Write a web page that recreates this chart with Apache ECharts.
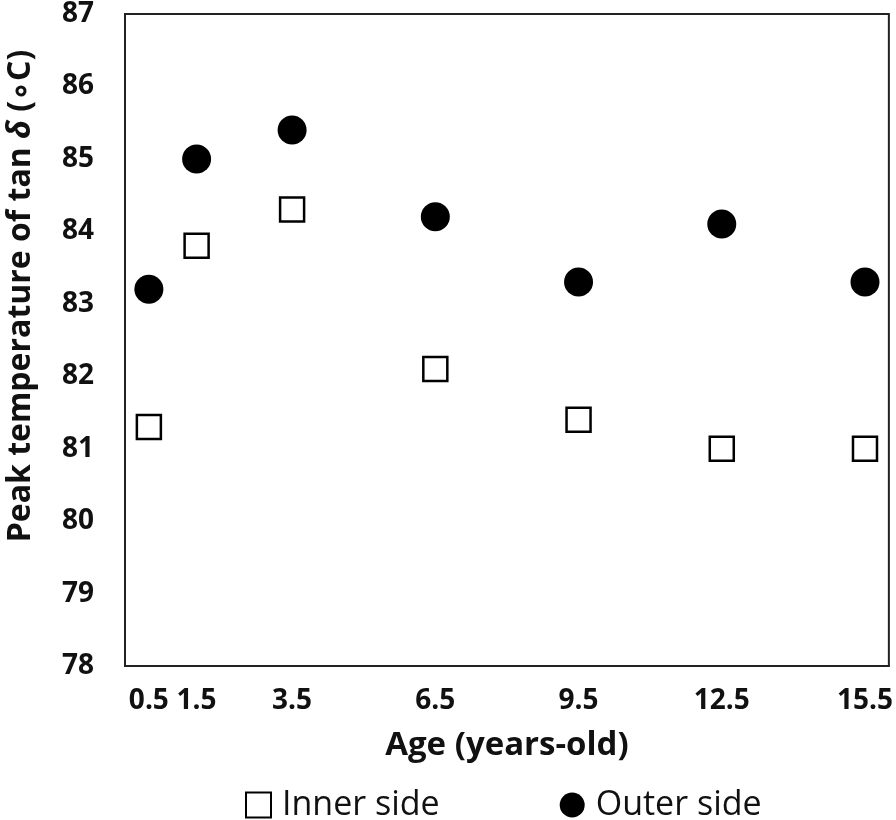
<!DOCTYPE html>
<html><head><meta charset="utf-8">
<script src="https://cdn.jsdelivr.net/npm/echarts@6/dist/echarts.min.js"></script>
<style>html,body{margin:0;padding:0;background:#fff}#c{width:896px;height:820px}</style>
</head><body><div id="c"></div>
<script>
const ages = [0.5, 1.5, 3.5, 6.5, 9.5, 12.5, 15.5];
const innerSide = [81.3, 83.8, 84.3, 82.1, 81.4, 81.0, 81.0];
const outerSide = [83.2, 85.0, 85.4, 84.2, 83.3, 84.1, 83.3];
const xTickLabels = [0.5, 1.5, 3.5, 6.5, 9.5, 12.5, 15.5];
const yTicks = [78, 79, 80, 81, 82, 83, 84, 85, 86, 87];

const FONT = '"Open Sans", sans-serif';
const chart = echarts.init(document.getElementById('c'), null, {renderer: 'canvas'});
chart.setOption({
  backgroundColor: '#fff',
  animation: false,
  grid: {left: 125, right: 6, top: 13, bottom: 154, show: true, borderColor: '#222', borderWidth: 2},
  xAxis: {
    type: 'value', min: 0, max: 16,
    name: 'Age (years-old)', nameLocation: 'middle', nameGap: 63,
    nameTextStyle: {fontFamily: FONT, fontWeight: 'bold', fontSize: 33, color: '#111'},
    axisLine: {show: true, lineStyle: {color: '#222', width: 2}},
    axisTick: {show: false},
    splitLine: {show: false},
    axisLabel: {customValues: xTickLabels, fontFamily: FONT, fontWeight: 'bold', fontSize: 28, color: '#111', margin: 21}
  },
  yAxis: {
    type: 'value', min: 78, max: 87, interval: 1,
    axisLine: {show: true, lineStyle: {color: '#222', width: 2}},
    axisTick: {show: false},
    splitLine: {show: false},
    axisLabel: {customValues: yTicks, fontFamily: FONT, fontWeight: 'bold', fontSize: 28, color: '#111', margin: 31}
  },
  graphic: [{
    type: 'text', x: 21, y: 296, rotation: Math.PI / 2,
    style: {
      text: 'Peak temperature of tan {i|δ} (∘C)',
      fontFamily: FONT, fontWeight: 'bold', fontSize: 32, fill: '#111',
      align: 'center', verticalAlign: 'middle',
      rich: {i: {fontStyle: 'italic', fontFamily: FONT, fontWeight: 'bold', fontSize: 32, fill: '#111'}}
    }
  }],
  legend: {
    top: 788, left: 245, itemGap: 120, itemWidth: 25, itemHeight: 25, padding: 0,
    textStyle: {fontFamily: FONT, fontSize: 34, color: '#111', padding: [0, 0, 0, 6]},
    data: [{name: 'Inner side'}, {name: 'Outer side'}]
  },
  series: [
    {
      name: 'Inner side', type: 'scatter', symbol: 'rect', symbolSize: 24,
      itemStyle: {color: '#fff', borderColor: '#000', borderWidth: 2.5, opacity: 1},
      data: ages.map((a, i) => [a, innerSide[i]])
    },
    {
      name: 'Outer side', type: 'scatter', symbol: 'circle', symbolSize: 29,
      itemStyle: {color: '#000', opacity: 1},
      data: ages.map((a, i) => [a, outerSide[i]])
    }
  ]
});
</script></body></html>
